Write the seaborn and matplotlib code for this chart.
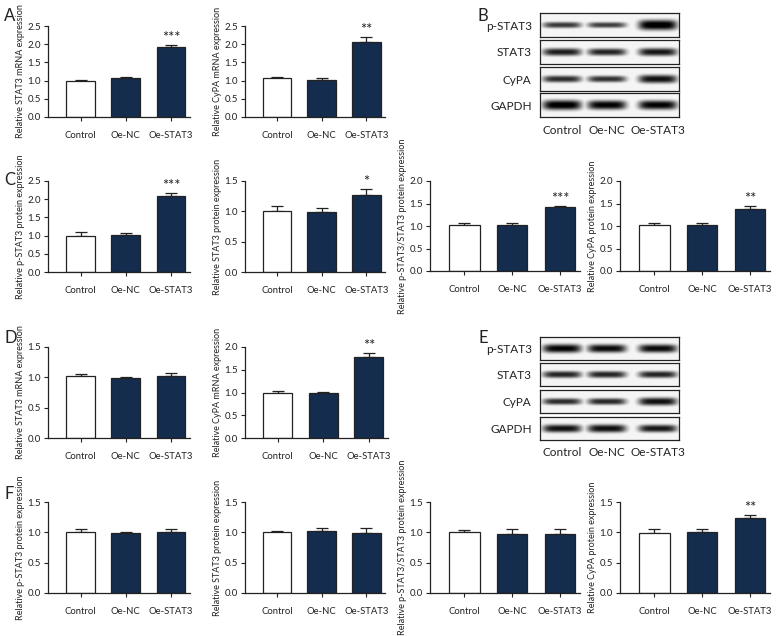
import numpy as np
import pandas as pd
import matplotlib
matplotlib.use("Agg")
import matplotlib.pyplot as plt
import seaborn as sns
from matplotlib import font_manager

sns.set_style("ticks")
fams = {f.name for f in font_manager.fontManager.ttflist}
FONT = [f for f in ["Liberation Sans Narrow", "Lato", "DejaVu Sans"] if f in fams]
plt.rcParams["font.family"] = FONT

# ---------------- data ----------------
groups = ["Control", "Oe-NC", "Oe-STAT3"]

a1_mean = [1.00, 1.07, 1.92]; a1_err = [0.03, 0.04, 0.06]
a2_mean = [1.06, 1.01, 2.05]; a2_err = [0.05, 0.06, 0.16]

c1_mean = [1.00, 1.03, 2.08]; c1_err = [0.11, 0.03, 0.10]
c2_mean = [1.01, 0.99, 1.27]; c2_err = [0.07, 0.06, 0.09]
c3_mean = [1.02, 1.02, 1.42]; c3_err = [0.05, 0.05, 0.03]
c4_mean = [1.02, 1.02, 1.37]; c4_err = [0.05, 0.05, 0.08]

d1_mean = [1.02, 0.99, 1.02]; d1_err = [0.03, 0.02, 0.05]
d2_mean = [1.00, 0.98, 1.77]; d2_err = [0.03, 0.03, 0.10]

f1_mean = [1.01, 0.99, 1.00]; f1_err = [0.04, 0.02, 0.06]
f2_mean = [1.01, 1.02, 0.99]; f2_err = [0.02, 0.05, 0.08]
f3_mean = [1.01, 0.98, 0.97]; f3_err = [0.03, 0.08, 0.09]
f4_mean = [0.99, 1.00, 1.23]; f4_err = [0.06, 0.06, 0.05]

blot_rows = ["p-STAT3", "STAT3", "CyPA", "GAPDH"]
# band darkness/thickness per lane (visual estimate)
blot_b = [[0.30, 0.26, 0.85], [0.50, 0.45, 0.55], [0.40, 0.36, 0.60], [0.80, 0.72, 0.72]]
blot_e = [[0.70, 0.65, 0.65], [0.45, 0.45, 0.45], [0.40, 0.42, 0.60], [0.60, 0.62, 0.55]]

NAVY = "#0b2b56"
INK = "#222222"
W, H = 780, 636
fig = plt.figure(figsize=(W / 100, H / 100), dpi=100)


def box(l, t, r, b):
    return [l / W, 1 - b / H, (r - l) / W, (b - t) / H]


def barpanel(rect, mean, err, ymax, ylabel, star=""):
    ax = fig.add_axes(box(*rect))
    df = pd.DataFrame({"group": groups, "value": mean})
    sns.barplot(data=df, x="group", y="value", hue="group", palette=["white", NAVY, NAVY],
                edgecolor=INK, linewidth=0.9, width=0.64, legend=False, ax=ax, zorder=2)
    ax.errorbar(range(3), mean, yerr=[[0, 0, 0], err], fmt="none", ecolor=INK,
                elinewidth=0.9, capsize=4, capthick=0.9, zorder=1)
    ax.set_xlim(-0.72, 2.42)
    ax.set_ylim(0, ymax)
    ticks = np.arange(0, ymax + 0.01, 0.5)
    ax.set_yticks(ticks)
    ax.set_yticklabels([f"{v:.1f}" for v in ticks])
    ax.set_xlabel("")
    ax.set_ylabel(ylabel, fontsize=6.5, labelpad=2, color=INK)
    ax.tick_params(axis="both", labelsize=7.0, length=3, width=0.8, pad=2, color=INK,
                   labelcolor=INK)
    ax.tick_params(axis="x", pad=7, labelsize=6.8)
    for s in ["top", "right"]:
        ax.spines[s].set_visible(False)
    for s in ["left", "bottom"]:
        ax.spines[s].set_linewidth(0.9)
        ax.spines[s].set_color(INK)
    if star:
        ax.text(2, mean[2] + err[2] + ymax * 0.0, star, ha="center", va="bottom",
                fontsize=10.5, color=INK)
    return ax


def blot(left, right, row_tops, row_h, label_pad, intens):
    lane_c = np.array([22, 67, 118]) / (right - left)
    x = np.linspace(0, 1, 280)
    y = np.linspace(0, 1, 50)
    X, Y = np.meshgrid(x, y)
    for i, (name, vals) in enumerate(zip(blot_rows, intens)):
        t = row_tops[i]
        ax = fig.add_axes(box(left, t, right, t + row_h))
        img = np.full_like(X, 0.04)
        for c, v in zip(lane_c, vals):
            hw = 0.14
            horiz = np.exp(-np.abs((X - c) / hw) ** 5)
            thick = 0.08 + 0.16 * v
            vert = np.exp(-np.abs((Y - 0.5) / thick) ** 2.5)
            img = np.maximum(img, (0.55 + 0.45 * v) * horiz * vert * 1.15)
        img = np.clip(img, 0, 1)
        ax.imshow(img, cmap="gray_r", vmin=0, vmax=1, aspect="auto", extent=[0, 1, 0, 1],
                  interpolation="bilinear")
        ax.set_xlim(0, 1); ax.set_ylim(0, 1)
        ax.set_yticks([0.5]); ax.set_yticklabels([name], fontsize=8.5, color=INK)
        ax.tick_params(length=0, pad=6)
        if i == len(blot_rows) - 1:
            ax.set_xticks(lane_c)
            ax.set_xticklabels(groups, fontsize=8.5, color=INK)
            ax.tick_params(axis="x", pad=label_pad)
        else:
            ax.set_xticks([])
        for s in ax.spines.values():
            s.set_linewidth(0.9); s.set_color(INK)


# Row A
barpanel((48, 26, 190, 117), a1_mean, a1_err, 2.5, "Relative STAT3 mRNA expression", "***")
barpanel((245, 26, 385, 117), a2_mean, a2_err, 2.5, "Relative CyPA mRNA expression", "**")
blot(540, 679, [13, 40, 67, 93], 24, 6, blot_b)

# Row C
barpanel((48, 181, 190, 272), c1_mean, c1_err, 2.5, "Relative p-STAT3 protein expression", "***")
barpanel((245, 181, 385, 272), c2_mean, c2_err, 1.5, "Relative STAT3 protein expression", "*")
barpanel((430, 181, 580, 271), c3_mean, c3_err, 2.0, "Relative p-STAT3/STAT3 protein expression", "***")
barpanel((620, 181, 770, 271), c4_mean, c4_err, 2.0, "Relative CyPA protein expression", "**")

# Row D
barpanel((48, 347, 190, 438), d1_mean, d1_err, 1.5, "Relative STAT3 mRNA expression")
barpanel((245, 347, 388, 438), d2_mean, d2_err, 2.0, "Relative CyPA mRNA expression", "**")
blot(540, 679, [337, 363, 390, 417], 23, 5, blot_e)

# Row F
barpanel((48, 502, 190, 593), f1_mean, f1_err, 1.5, "Relative p-STAT3 protein expression")
barpanel((245, 502, 385, 593), f2_mean, f2_err, 1.5, "Relative STAT3 protein expression")
barpanel((430, 502, 580, 593), f3_mean, f3_err, 1.5, "Relative p-STAT3/STAT3 protein expression")
barpanel((620, 502, 770, 593), f4_mean, f4_err, 1.5, "Relative CyPA protein expression", "**")

# Panel letters
for letter, x, y in [("A", 4, 16), ("B", 477, 16), ("C", 4, 180), ("D", 4, 338),
                     ("E", 478, 338), ("F", 4, 494)]:
    fig.text(x / W, 1 - y / H, letter, fontsize=12, ha="left", va="center", color=INK)

fig.savefig("out.png", dpi=100)
